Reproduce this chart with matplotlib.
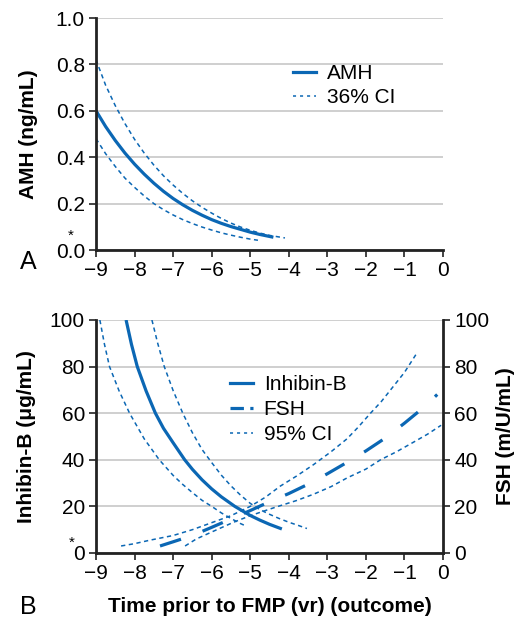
import matplotlib
matplotlib.use("Agg")
import matplotlib.pyplot as plt
from matplotlib.lines import Line2D

plt.rcParams['font.family'] = ['Liberation Sans', 'DejaVu Sans']

BLUE = '#0b67b4'
GRID = '#cccccc'
AXC = '#222222'

# Panel A: AMH (ng/mL)
amh_x = [-9, -8.75, -8.5, -8.25, -8, -7.75, -7.5, -7.25, -7, -6.75, -6.5, -6.25, -6, -5.75,
         -5.5, -5.25, -5, -4.75, -4.4]
amh_y = [0.60, 0.532, 0.472, 0.418, 0.37, 0.327, 0.288, 0.253, 0.222, 0.195, 0.171, 0.15,
         0.131, 0.115, 0.101, 0.089, 0.077, 0.067, 0.055]
amh_hi_x = [-9, -8.75, -8.5, -8.25, -8, -7.75, -7.5, -7.25, -7, -6.75, -6.5, -6.25, -6, -5.75,
            -5.5, -5.25, -5, -4.75, -4.5, -4.1]
amh_hi_y = [0.82, 0.71, 0.622, 0.545, 0.477, 0.418, 0.366, 0.32, 0.28, 0.244, 0.212, 0.184,
            0.159, 0.136, 0.116, 0.099, 0.085, 0.073, 0.063, 0.052]
amh_lo_x = [-9, -8.75, -8.5, -8.25, -8, -7.75, -7.5, -7.25, -7, -6.75, -6.5, -6.25, -6, -5.75,
            -5.5, -5.25, -5, -4.8]
amh_lo_y = [0.48, 0.415, 0.36, 0.31, 0.27, 0.233, 0.20, 0.174, 0.151, 0.131, 0.114, 0.099,
            0.086, 0.074, 0.064, 0.055, 0.047, 0.042]

# Panel B: Inhibin-B (ug/mL)
inh_x = [-8.22, -8.08, -7.93, -7.7, -7.46, -7.25, -7.0, -6.7, -6.5, -6.25, -6.0, -5.75, -5.4,
         -5.0, -4.75, -4.5, -4.18]
inh_y = [100, 89.5, 80, 69.5, 60, 53.5, 47.3, 40, 35.9, 31.4, 27.5, 24.1, 20, 16.1, 14.1,
         12.3, 10.3]
inh_hi_x = [-7.55, -7.4, -7.23, -7.0, -6.75, -6.5, -6.25, -6.0, -5.75, -5.5, -5.25, -5.0,
            -4.75, -4.5, -4.25, -4.0, -3.75, -3.53]
inh_hi_y = [100, 90, 80, 69.7, 60, 51.6, 44.4, 38.8, 33.4, 28.8, 24.8, 21.3, 18.6, 16.6, 14.8,
            13.2, 11.8, 10.5]
inh_lo_x = [-8.9, -8.78, -8.65, -8.4, -8.13, -7.75, -7.36, -7.0, -6.75, -6.5, -6.25, -6.0,
            -5.75, -5.5, -5.25, -5.09]
inh_lo_y = [100, 89.5, 80, 69.5, 60, 49, 40, 33.3, 29.4, 25.9, 22.6, 20, 17.2, 14.8, 12.6, 11.4]

# Panel B: FSH (m/U/mL)
fsh_x = [-7.34, -7, -6.5, -6, -5.5, -5, -4.5, -4, -3.5, -3, -2.5, -2, -1.5, -1, -0.5, -0.15]
fsh_y = [3, 4.8, 7.5, 11, 14.6, 18.2, 22, 25.5, 29.5, 34, 38.8, 43.8, 49.3, 55.7, 62.5, 68]
fsh_hi_x = [-8.35, -8, -7.6, -7, -6.5, -6, -5.5, -5, -4.6, -4.22, -3.8, -3.36, -2.9, -2.49,
            -2.2, -1.88, -1.6, -1.36, -1, -0.67]
fsh_hi_y = [3, 4, 5.5, 7.5, 10, 13, 16, 20, 24, 28.7, 33, 37.9, 43.5, 49, 54, 60, 65, 70, 77.5, 86]
fsh_lo_x = [-6.69, -6.4, -6, -5.43, -5, -4.5, -4.22, -3.8, -3.36, -2.9, -2.49, -2, -1.62,
            -1.2, -0.76, -0.4, -0.05]
fsh_lo_y = [3, 6, 9, 13.2, 16, 18.8, 20.3, 22.5, 25.2, 28.5, 32.2, 36, 40, 43.5, 47.6, 51, 54.8]

xticks = [-9, -8, -7, -6, -5, -4, -3, -2, -1, 0]
xticklabels = ['\u22129', '\u22128', '\u22127', '\u22126', '\u22125', '\u22124', '\u22123',
               '\u22122', '\u22121', '0']

fig = plt.figure(figsize=(5.19, 6.23), dpi=100)
ax1 = fig.add_axes([0.185, 0.5987, 0.6686, 0.3724])
ax2 = fig.add_axes([0.185, 0.1124, 0.6686, 0.374])

thin = dict(color=BLUE, lw=1.1, dashes=(2.8, 2.3))


def style_axis(ax):
    ax.set_xlim(-9, 0)
    ax.set_xticks(xticks)
    ax.set_xticklabels(xticklabels)
    ax.spines['top'].set_visible(False)
    ax.spines['right'].set_visible(False)
    for s in ['left', 'bottom']:
        ax.spines[s].set_linewidth(2.0)
        ax.spines[s].set_color(AXC)
    ax.tick_params(labelsize=15, length=5, width=1.2, color=AXC, pad=3)
    ax.grid(axis='y', color=GRID, lw=1.3)
    ax.set_axisbelow(True)


# ---- Panel A
ax1.plot(amh_x, amh_y, color=BLUE, lw=2.3, solid_capstyle='butt')
ax1.plot(amh_hi_x, amh_hi_y, **thin)
ax1.plot(amh_lo_x, amh_lo_y, **thin)
style_axis(ax1)
ax1.set_ylim(0, 1.0)
ax1.set_yticks([0, 0.2, 0.4, 0.6, 0.8, 1.0])
ax1.set_yticklabels(['0.0', '0.2', '0.4', '0.6', '0.8', '1.0'])
ax1.set_ylabel('AMH (ng/mL)', fontsize=15, fontweight='bold', labelpad=13)
h1 = [Line2D([], [], color=BLUE, lw=2.3),
      Line2D([], [], color=BLUE, lw=1.1, dashes=(2.0, 2.6))]
ax1.legend(h1, ['AMH', '36% CI'], loc='upper left', bbox_to_anchor=(0.545, 0.838),
           frameon=False, fontsize=15, handlelength=1.1, handletextpad=0.5,
           labelspacing=0.25, borderaxespad=0)
fig.text(0.137, 0.621, '*', fontsize=11, ha='center', va='center')
fig.text(0.055, 0.579, 'A', fontsize=18, ha='center', va='center')

# ---- Panel B
ax2.plot(inh_x, inh_y, color=BLUE, lw=2.3, solid_capstyle='butt')
ax2.plot(fsh_x, fsh_y, color=BLUE, lw=2.3, dashes=(6.9, 7.2))
ax2.plot(inh_hi_x, inh_hi_y, **thin)
ax2.plot(inh_lo_x, inh_lo_y, **thin)
ax2.plot(fsh_hi_x, fsh_hi_y, **thin)
ax2.plot(fsh_lo_x, fsh_lo_y, **thin)
style_axis(ax2)
ax2.set_ylim(0, 100)
ax2.set_yticks([0, 20, 40, 60, 80, 100])
ax2.set_ylabel('Inhibin-B (\u03bcg/mL)', fontsize=15, fontweight='bold', labelpad=10)
ax2.set_xlabel('Time prior to FMP (vr) (outcome)', fontsize=15, fontweight='bold', labelpad=10)
h2 = [Line2D([], [], color=BLUE, lw=2.3),
      Line2D([], [], color=BLUE, lw=2.3, dashes=(4.2, 2.0)),
      Line2D([], [], color=BLUE, lw=1.1, dashes=(2.0, 2.6))]
ax2.legend(h2, ['Inhibin-B', 'FSH', '95% CI'], loc='upper left', bbox_to_anchor=(0.363, 0.80),
           frameon=False, fontsize=15, handlelength=1.1, handletextpad=0.5,
           labelspacing=0.3, borderaxespad=0)

axr = ax2.twinx()
axr.set_ylim(0, 100)
axr.set_yticks([0, 20, 40, 60, 80, 100])
for s in ['top', 'left', 'bottom']:
    axr.spines[s].set_visible(False)
axr.spines['right'].set_linewidth(2.0)
axr.spines['right'].set_color(AXC)
axr.tick_params(labelsize=15, length=5, width=1.2, color=AXC, pad=3)
axr.set_ylabel('FSH (m/U/mL)', fontsize=15, fontweight='bold', labelpad=5)

fig.text(0.138, 0.129, '*', fontsize=11, ha='center', va='center')
fig.text(0.055, 0.026, 'B', fontsize=18, ha='center', va='center')

fig.savefig('out.png', dpi=100)
